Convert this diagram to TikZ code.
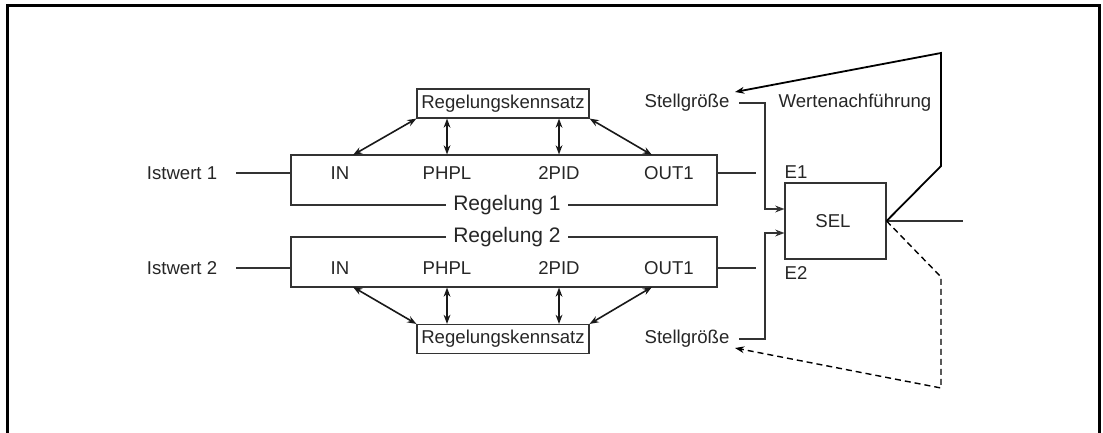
\documentclass[tikz,border=0pt]{standalone}
\usepackage{fontspec}
\setmainfont{Liberation Sans}
\usetikzlibrary{arrows.meta}
\begin{document}
\begin{tikzpicture}[x=0.5pt,y=-0.5pt,
  txt/.style={font=\fontsize{9.3}{11}\selectfont, inner sep=0pt, text=black!85},
  bigtxt/.style={font=\fontsize{10.5}{12}\selectfont, fill=white, inner xsep=3.5pt, inner ysep=1pt, text=black!85},
  wire/.style={line width=0.55pt, draw=black!80},
  blk/.style={draw=black!80, line width=0.55pt, inner sep=0pt},
  tip/.style={-{Stealth[length=4.6pt,width=3.4pt]}},
  bitip/.style={{Stealth[length=4.6pt,width=3.4pt]}-{Stealth[length=4.6pt,width=3.4pt]}, line width=0.8pt, draw=black!90}]
\useasboundingbox (0,0) rectangle (1103,433);

% frame
\draw[line width=1.5pt] (7,433) -- (7,6) -- (1099,6) -- (1099,433);

% controller blocks
\node[blk, minimum width=213pt, minimum height=25pt] (r1) at (504,180) {};
\node[blk, minimum width=213pt, minimum height=25pt] (r2) at (504,262) {};
\node[bigtxt] (l1) at (507,205) {Regelung 1};
\node[bigtxt] (l2) at (507,237) {Regelung 2};

% function names
\node[txt] (in1) at (340,173) {IN};
\node[txt] (ph1) at (447,173) {PHPL};
\node[txt] (pi1) at (559,173) {2PID};
\node[txt] (ou1) at (669,173) {OUT1};
\node[txt] (in2) at (340,268) {IN};
\node[txt] (ph2) at (447,268) {PHPL};
\node[txt] (pi2) at (559,268) {2PID};
\node[txt] (ou2) at (669,268) {OUT1};

% parameter sets
\node[blk, minimum width=86pt, minimum height=14.5pt, txt] (k1) at (503,103.5) {Regelungskennsatz};
\node[blk, minimum width=86pt, minimum height=14.5pt, txt] (k2) at (503,339) {Regelungskennsatz};

% process values
\node[txt] (ist1) at (182,173) {Istwert 1};
\node[txt] (ist2) at (182,268) {Istwert 2};
\coordinate (a1) at (236,173);
\coordinate (a2) at (236,268);
\draw[wire] (a1) -- (a1 -| r1.west);
\draw[wire] (a2) -- (a2 -| r2.west);

% links to parameter sets
\draw[bitip] (k1.south west) -- (353,155);
\draw[bitip] (k1.south -| ph1) -- (ph1 |- r1.north);
\draw[bitip] (k1.south -| pi1) -- (pi1 |- r1.north);
\draw[bitip] (k1.south east) -- (652,155);
\draw[bitip] (k2.north west) -- (353,287);
\draw[bitip] (k2.north -| ph2) -- (ph2 |- r2.south);
\draw[bitip] (k2.north -| pi2) -- (pi2 |- r2.south);
\draw[bitip] (k2.north east) -- (652,287);

% outputs
\coordinate (o1) at (756,173);
\coordinate (o2) at (756,268);
\draw[wire] (o1 -| r1.east) -- (o1);
\draw[wire] (o2 -| r2.east) -- (o2);

% selector
\node[blk, minimum width=50.5pt, minimum height=38pt] (sel) at (835.5,221) {};
\node[txt] at (833,221) {SEL};
\node[txt] (e1) at (796,172) {E1};
\node[txt] (e2) at (796,273) {E2};
\coordinate (out) at (963,221);
\draw[wire] (sel.east) -- (out);

% manipulated variables
\node[txt] (st1) at (687,103) {Stellgröße};
\node[txt] (st2) at (687,339) {Stellgröße};
\coordinate (s1) at (739,103);
\coordinate (s2) at (739,339);
\draw[wire, line width=0.8pt, tip] (s1) -- (765,103) -- (765,209) -- (sel.west |- 0,209);
\draw[wire, line width=0.8pt, tip] (s2) -- (765,339) -- (765,233) -- (sel.west |- 0,233);

% output tracking
\node[txt] (wn) at (855,103) {Wertenachführung};
\draw[line width=0.9pt, tip] (sel.east) -- (941,166) -- (941,53) -- (735,92);
\draw[line width=0.7pt, dash pattern=on 3pt off 2pt, tip] (sel.east) -- (941,277) -- (941,388) -- (735,348);
\end{tikzpicture}
\end{document}
